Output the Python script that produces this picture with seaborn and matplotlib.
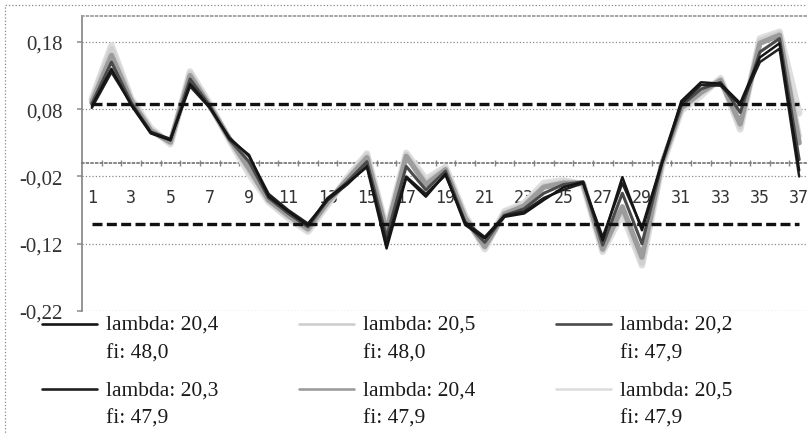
import numpy as np
import pandas as pd
import matplotlib
matplotlib.use("Agg")
import matplotlib.pyplot as plt
from matplotlib.patches import Rectangle
from matplotlib.ticker import FixedLocator
from matplotlib.legend_handler import HandlerLine2D
import seaborn as sns

# categories 1..37
steps = list(range(1, 38))

s1 = [0.085, 0.140, 0.086, 0.044, 0.034, 0.118, 0.083, 0.036, 0.012, -0.050, -0.072, -0.093, -0.052,
      -0.030, -0.006, -0.127, -0.022, -0.050, -0.016, -0.092, -0.112, -0.080, -0.075, -0.055, -0.036,
      -0.028, -0.115, -0.021, -0.100, -0.002, 0.092, 0.120, 0.118, 0.089, 0.157, 0.178, -0.011]
s2 = [0.093, 0.170, 0.095, 0.050, 0.030, 0.134, 0.086, 0.036, -0.012, -0.056, -0.080, -0.100, -0.060,
      -0.024, 0.012, -0.100, 0.013, -0.028, -0.008, -0.080, -0.126, -0.074, -0.062, -0.034, -0.028,
      -0.030, -0.130, -0.068, -0.149, -0.004, 0.080, 0.104, 0.124, 0.053, 0.182, 0.193, 0.040]
s3 = [0.088, 0.150, 0.090, 0.046, 0.034, 0.125, 0.085, 0.035, 0.002, -0.052, -0.075, -0.095, -0.055,
      -0.028, 0.002, -0.110, -0.005, -0.040, -0.012, -0.088, -0.118, -0.078, -0.068, -0.045, -0.032,
      -0.028, -0.122, -0.045, -0.120, -0.002, 0.085, 0.110, 0.120, 0.075, 0.165, 0.185, 0.005]
s4 = [0.082, 0.135, 0.088, 0.046, 0.036, 0.114, 0.082, 0.038, 0.010, -0.046, -0.070, -0.090, -0.055,
      -0.032, -0.004, -0.118, -0.020, -0.046, -0.018, -0.088, -0.110, -0.078, -0.072, -0.052, -0.040,
      -0.030, -0.110, -0.030, -0.096, 0.000, 0.088, 0.116, 0.115, 0.086, 0.150, 0.170, -0.020]
s5 = [0.090, 0.160, 0.093, 0.048, 0.031, 0.130, 0.085, 0.036, -0.008, -0.055, -0.078, -0.098, -0.058,
      -0.025, 0.008, -0.102, 0.010, -0.032, -0.010, -0.082, -0.124, -0.076, -0.064, -0.036, -0.030,
      -0.030, -0.128, -0.065, -0.140, -0.002, 0.082, 0.105, 0.123, 0.058, 0.178, 0.190, 0.030]
s6 = [0.095, 0.175, 0.096, 0.052, 0.028, 0.136, 0.088, 0.034, -0.016, -0.058, -0.082, -0.102, -0.062,
      -0.022, 0.014, -0.098, 0.015, -0.024, -0.006, -0.078, -0.128, -0.072, -0.060, -0.030, -0.026,
      -0.032, -0.132, -0.075, -0.152, -0.006, 0.078, 0.100, 0.126, 0.050, 0.185, 0.195, 0.074]

labels = ["lambda: 20,4\nfi: 48,0", "lambda: 20,5\nfi: 48,0", "lambda: 20,2\nfi: 47,9",
          "lambda: 20,3\nfi: 47,9", "lambda: 20,4\nfi: 47,9", "lambda: 20,5\nfi: 47,9"]

# control limits (dashed)
upper_limit = 0.087
lower_limit = -0.090

y_ticks = [-0.22, -0.12, -0.02, 0.08, 0.18]
y_tick_labels = ["-0,22", "-0,12", "-0,02", "0,08", "0,18"]


class FirstLineHandler(HandlerLine2D):
    """legend sample level with the first text line instead of the middle"""
    def create_artists(self, legend, orig_handle, xdescent, ydescent, width, height, fontsize, trans):
        artists = super().create_artists(legend, orig_handle, xdescent, ydescent, width, height,
                                         fontsize, trans)
        for a in artists:
            a.set_ydata(np.asarray(a.get_ydata()) + fontsize * 0.66)
            a.set_linewidth(1.9)
        return artists


sns.set_theme(style="white")
plt.rcParams['font.family'] = ['Liberation Serif', 'DejaVu Serif']

fig = plt.figure(figsize=(8.07, 4.35), dpi=100)
ax = fig.add_axes([82 / 807, 123 / 435, 727 / 807, 295.3 / 435])

series = [s1, s2, s3, s4, s5, s6]
colors = ['#151515', '#cfcfcf', '#4a4a4a', '#202020', '#9c9c9c', '#dedede']
widths = [1.8, 3.8, 2.2, 1.8, 3.8, 4.8]
draw_order = [5, 1, 4, 2, 3, 0]

handles = {}
for i in draw_order:
    df = pd.DataFrame({'step': steps, 'value': series[i]})
    sns.lineplot(data=df, x='step', y='value', color=colors[i], lw=widths[i], ax=ax,
                 label=labels[i], zorder=3 + (i in (0, 3)))
    handles[i] = ax.get_lines()[-1]

ax.hlines([upper_limit, lower_limit], steps[0], steps[-1], colors='#111111', lw=2.4,
          linestyles=[(0, (3, 1.3))], zorder=5)

ax.spines['bottom'].set_position(('data', 0))
ax.spines['bottom'].set_linestyle(':')
ax.spines['bottom'].set_color('#777777')
ax.spines['top'].set_linestyle(':')
ax.spines['top'].set_color('#999999')
ax.spines['left'].set_color('#888888')
ax.spines['right'].set_visible(False)

ax.set_xlim(0.5, 37.5)
ax.set_ylim(-0.22, 0.219)
ax.set_yticks(y_ticks)
ax.set_yticklabels(y_tick_labels)
ax.set_xticks(steps[::2])
ax.set_xticklabels([str(s) for s in steps[::2]])
ax.xaxis.set_minor_locator(FixedLocator(np.arange(1.5, 37.5, 1)))
ax.set_xlabel('')
ax.set_ylabel('')

ax.grid(axis='y', linestyle=':', color='#8a8a8a', lw=0.9)
ax.tick_params(axis='y', length=3.6, color='#999999', labelsize=15, pad=10, labelcolor='#333333',
               left=True)
ax.tick_params(axis='x', which='major', length=0, pad=18, bottom=True, labelsize=12,
               labelcolor='#333333')
ax.tick_params(axis='x', which='minor', length=5, direction='inout', color='#888888', bottom=True)
for lab in ax.get_xticklabels():
    lab.set_fontfamily('DejaVu Sans Mono')

ax.get_legend().remove()
order = [0, 3, 1, 4, 2, 5]
leg = fig.legend([handles[i] for i in order], [labels[i] for i in order], ncol=3,
                 loc='upper left', bbox_to_anchor=(42 / 807, 1 - 316 / 435), frameon=False,
                 fontsize=15.5, handlelength=2.55, handletextpad=0.42, columnspacing=3.75,
                 labelspacing=0.82, borderpad=0, borderaxespad=0,
                 handler_map={plt.Line2D: FirstLineHandler()})
for t in leg.get_texts():
    t.set_linespacing(1.68)
    t.set_color('#1a1a1a')

fig.patches.append(Rectangle((5 / 807, -0.02), 1.0, 1.02 - 6 / 435, transform=fig.transFigure,
                             fill=False, ls=':', lw=0.9, ec='#888888'))

fig.savefig('out.png', dpi=100)
